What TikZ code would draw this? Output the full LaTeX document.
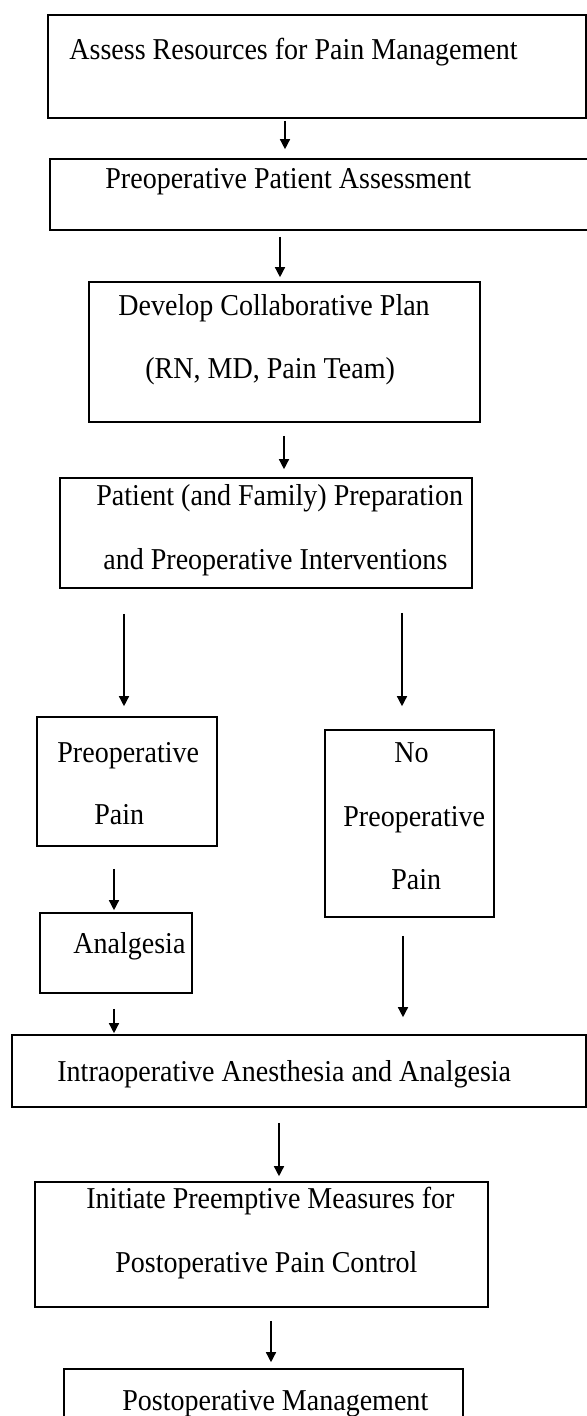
\documentclass[tikz,border=0pt]{standalone}
\usepackage{fontspec}
\setmainfont[FakeStretch=0.925]{Liberation Serif}
\usetikzlibrary{arrows.meta, positioning, fit}

\begin{document}
\begin{tikzpicture}[
    x=0.5pt, y=-0.5pt,
    box/.style={rectangle, draw, line width=0.8pt, inner sep=0pt},
    txt/.style={anchor=base west, inner sep=0pt, font=\fontsize{15.15}{18}\selectfont},
    line/.style={draw, line width=0.7pt, -{Triangle[length=5pt, width=5pt]}}
]
    \useasboundingbox (0,0) rectangle (587,1416);

    % Boxes
    \node[box, fit={(48,15) (586,118)}] (assess) {};
    \node[box, fit={(50,159) (592,230)}] (preop) {};
    \node[box, fit={(89,282) (480,422)}] (plan) {};
    \node[box, fit={(60,478) (472,588)}] (prep) {};
    \node[box, fit={(37,717) (217,846)}] (pain) {};
    \node[box, fit={(325,730) (494,917)}] (nopain) {};
    \node[box, fit={(40,913) (192,993)}] (analg) {};
    \node[box, fit={(12,1035) (586,1107)}] (intra) {};
    \node[box, fit={(35,1182) (488,1307)}] (initiate) {};
    \node[box, fit={(64,1369) (463,1425)}] (postop) {};

    % Texts
    \node[txt] (assess-txt) at (69,60) {Assess Resources for Pain Management};
    \node[txt] (preop-txt) at (105,189) {Preoperative Patient Assessment};
    \node[txt] (plan-txt1) at (118,316) {Develop Collaborative Plan};
    \node[txt] (plan-txt2) at (145,379) {(RN, MD, Pain Team)};
    \node[txt] (prep-txt1) at (96,505) {Patient (and Family) Preparation};
    \node[txt] (prep-txt2) at (103,569) {and Preoperative Interventions};
    \node[txt] (pain-txt1) at (57,762) {Preoperative};
    \node[txt] (pain-txt2) at (94,824) {Pain};
    \node[txt] (nopain-txt1) at (394,762) {No};
    \node[txt] (nopain-txt2) at (343,826) {Preoperative};
    \node[txt] (nopain-txt3) at (391,889) {Pain};
    \node[txt] (analg-txt) at (73,953) {Analgesia};
    \node[txt] (intra-txt) at (57,1081) {Intraoperative Anesthesia and Analgesia};
    \node[txt] (initiate-txt1) at (86,1208) {Initiate Preemptive Measures for};
    \node[txt] (initiate-txt2) at (115,1272) {Postoperative Pain Control};
    \node[txt] (postop-txt) at (122,1410) {Postoperative Management};

    % Arrows
    \path[line, shorten <=1pt, shorten >=4.5pt] (assess.south -| 285,0) -- (preop.north -| 285,0);
    \path[line, shorten <=3pt, shorten >=2pt] (preop.south -| 280,0) -- (plan.north -| 280,0);
    \path[line, shorten <=6.5pt, shorten >=4pt] (plan.south -| 284,0) -- (prep.north -| 284,0);
    \path[line, shorten <=12.5pt, shorten >=5pt] (prep.south -| 124,0) -- (pain.north -| 124,0);
    \path[line, shorten <=12pt, shorten >=11.5pt] (prep.south -| 402,0) -- (nopain.north -| 402,0);
    \path[line, shorten <=11pt, shorten >=1pt] (pain.south -| 114,0) -- (analg.north -| 114,0);
    \path[line, shorten <=9pt, shorten >=8.5pt] (nopain.south -| 403,0) -- (intra.north -| 403,0);
    \path[line, shorten <=7.5pt, shorten >=0.5pt] (analg.south -| 114,0) -- (intra.north -| 114,0);
    \path[line, shorten <=7.5pt, shorten >=2.5pt] (intra.south -| 279,0) -- (initiate.north -| 279,0);
    \path[line, shorten <=6.5pt, shorten >=3pt] (initiate.south -| 271,0) -- (postop.north -| 271,0);

\end{tikzpicture}
\end{document}
